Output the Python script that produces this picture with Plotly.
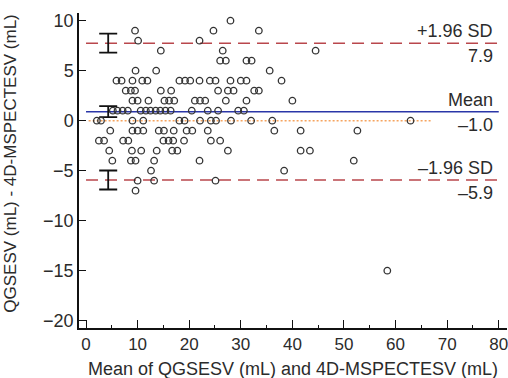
import plotly.graph_objects as go

# Scatter data grouped by difference level (y) -> list of means (x)
diff_levels = [10, 9, 8, 7, 6, 5, 4, 3, 2, 1, 0, -1, -2, -3, -4, -5, -6, -7, -15]
means_by_level = [
    [28.0],
    [9.5, 24.7, 33.5],
    [10.1, 22.0],
    [14.5, 26.5, 44.5],
    [26.0, 27.1, 31.1, 32.1],
    [9.6, 13.6, 35.6],
    [5.9, 6.9, 9.0, 10.9, 11.9, 18.1, 19.2, 20.2, 22.0, 24.0, 25.1, 28.0, 30.0, 31.1, 37.9],
    [7.7, 8.7, 9.5, 14.5, 16.5, 25.6, 27.5, 28.6, 32.6, 33.5],
    [9.0, 10.0, 12.1, 15.2, 16.1, 17.1, 21.1, 22.1, 23.1, 27.1, 31.1, 40.0],
    [5.2, 6.1, 7.1, 8.1, 10.6, 11.6, 12.5, 13.5, 14.4, 15.4, 16.4, 20.5, 23.6, 25.6, 29.5, 30.6],
    [2.1, 2.9, 9.0, 11.1, 18.1, 19.1, 22.1, 24.2, 25.2, 28.1, 32.0, 36.1, 62.9],
    [4.7, 9.0, 10.0, 11.1, 14.1, 15.1, 17.0, 19.5, 20.6, 23.6, 36.5, 41.6, 52.6],
    [2.5, 3.5, 7.2, 8.2, 15.0, 16.0, 16.9, 19.0, 24.2, 26.0],
    [4.5, 8.9, 10.7, 13.7, 16.7, 17.7, 27.5, 41.6, 43.4],
    [5.1, 8.7, 9.6, 13.2, 22.0, 51.9],
    [12.6, 38.4],
    [10.0, 13.2, 25.1],
    [9.6],
    [58.4],
]

# Limits of agreement (as drawn) and their confidence intervals
upper_loa = 7.75
mean_line = 0.9
lower_loa = -5.93
zero_line = 0.0
loa_values = [upper_loa, mean_line, lower_loa]
ci_half = [0.95, 0.55, 0.95]
ci_x = [4.3, 4.3, 4.3]

label_top = ["+1.96 SD", "Mean", "–1.96 SD"]
label_bottom = ["7.9", "–1.0", "–5.9"]

x_ticks = [0, 10, 20, 30, 40, 50, 60, 70, 80]
y_ticks = [-20, -15, -10, -5, 0, 5, 10]

x_title = "Mean of QGSESV (mL) and 4D-MSPECTESV (mL)"
y_title = "QGSESV (mL) - 4D-MSPECTESV (mL)"

xs, ys = [], []
for lvl, arr in zip(diff_levels, means_by_level):
    for v in arr:
        xs.append(v)
        ys.append(lvl)

fig = go.Figure()

red = "#b9474c"
fig.add_trace(go.Scatter(x=[0, 80], y=[upper_loa, upper_loa], mode="lines",
                         line=dict(color=red, width=1.5, dash="12px,7px"), hoverinfo="skip"))
fig.add_trace(go.Scatter(x=[0, 80], y=[lower_loa, lower_loa], mode="lines",
                         line=dict(color=red, width=1.5, dash="12px,7px"), hoverinfo="skip"))
fig.add_trace(go.Scatter(x=[0, 80], y=[mean_line, mean_line], mode="lines",
                         line=dict(color="#2a36a8", width=1.5), hoverinfo="skip"))
fig.add_trace(go.Scatter(x=[0.5, 67], y=[zero_line, zero_line], mode="lines",
                         line=dict(color="#f6a45f", width=1.5, dash="2px,2px"), hoverinfo="skip"))

fig.add_trace(go.Scatter(x=ci_x, y=loa_values, mode="markers",
                         marker=dict(size=1, color="rgba(0,0,0,0)"),
                         error_y=dict(type="data", array=ci_half, visible=True,
                                      color="#111", thickness=1.8, width=9),
                         hoverinfo="skip"))

fig.add_trace(go.Scatter(x=xs, y=ys, mode="markers",
                         marker=dict(symbol="circle-open", size=6.5,
                                     color="#333", line=dict(width=1.3, color="#333"))))

font_fam = "Liberation Sans, Arial, sans-serif"
txt = "#2b2b2b"
for val, t, b in zip(loa_values, label_top, label_bottom):
    fig.add_annotation(x=79.3, y=val, xref="x", yref="y", text=t, showarrow=False,
                       xanchor="right", yanchor="bottom", yshift=0,
                       font=dict(size=18, color=txt, family=font_fam))
    fig.add_annotation(x=79.3, y=val, xref="x", yref="y", text=b, showarrow=False,
                       xanchor="right", yanchor="top", yshift=-1,
                       font=dict(size=18, color=txt, family=font_fam))

# axis titles as paper annotations
fig.add_annotation(x=0.5, y=-0.13, xref="paper", yref="paper", text=x_title,
                   showarrow=False, xanchor="center", yanchor="middle",
                   font=dict(size=18, color=txt, family=font_fam))
fig.add_annotation(x=-0.16, y=0.52, xref="paper", yref="paper", text=y_title,
                   showarrow=False, xanchor="center", yanchor="middle", textangle=-90,
                   font=dict(size=17, color=txt, family=font_fam))

fig.update_layout(
    width=508, height=378,
    margin=dict(l=79, r=1, t=13, b=50, autoexpand=False),
    paper_bgcolor="white", plot_bgcolor="white",
    showlegend=False,
    font=dict(family=font_fam, size=18, color=txt),
)
fig.update_xaxes(range=[-1.36, 81.6], tickvals=x_ticks, ticks="inside", ticklen=8,
                 tickwidth=1.2, tickcolor="#111", showline=True, linecolor="#111",
                 linewidth=1.5, showgrid=False, zeroline=False, automargin=False,
                 ticklabeloverflow="allow",
                 minor=dict(tickvals=[5, 15, 25, 35, 45, 55, 65, 75], ticks="inside",
                            ticklen=3, tickcolor="#111"),
                 tickfont=dict(size=17))
fig.update_yaxes(range=[-20.73, 10.77], tickvals=y_ticks, ticks="inside", ticklen=7,
                 tickwidth=1.2, tickcolor="#111", showline=True, linecolor="#111",
                 linewidth=1.5, showgrid=False, zeroline=False, automargin=False,
                 tickfont=dict(size=18))

fig.write_html("out.html", config={"displayModeBar": False},
               post_script="document.body.style.margin='0';document.body.style.overflow='hidden';")
